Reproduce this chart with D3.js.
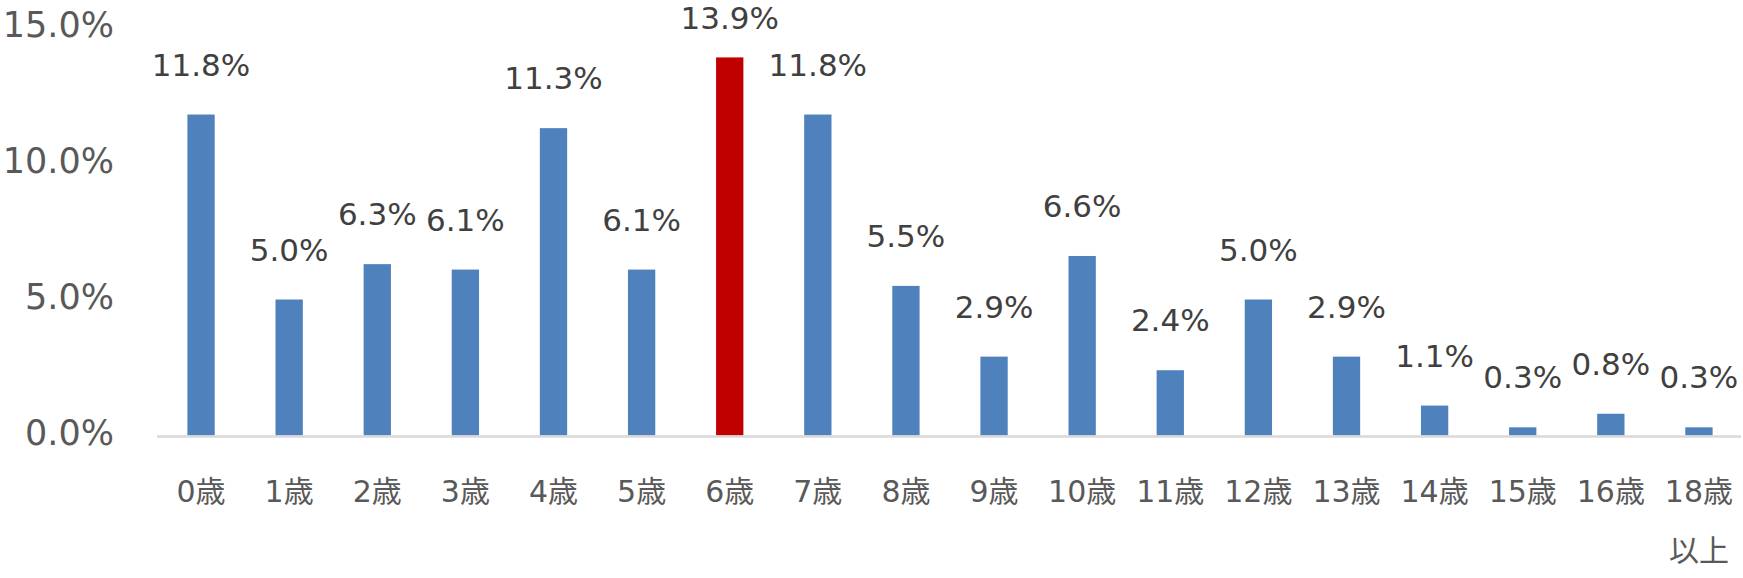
<!DOCTYPE html>
<html>
<head>
<meta charset="utf-8">
<script src="https://cdn.jsdelivr.net/npm/d3@7"></script>
<style>
  body { margin: 0; background: #fff; }
  svg text { font-family: "DejaVu Sans", "Noto Sans CJK JP", sans-serif; }
</style>
</head>
<body>
<div id="chart-container"></div>
<script>
const categories = ["0歳", "1歳", "2歳", "3歳", "4歳", "5歳", "6歳", "7歳", "8歳",
    "9歳", "10歳", "11歳", "12歳", "13歳", "14歳", "15歳", "16歳", "18歳\n以上"];
const values = [11.8, 5.0, 6.3, 6.1, 11.3, 6.1, 13.9, 11.8, 5.5, 2.9, 6.6, 2.4, 5.0, 2.9, 1.1, 0.3, 0.8, 0.3];
const highlight = "6歳";
const yTicks = [0, 5, 10, 15];

const width = 1743;
const height = 578;

function drawBarChart() {
    const svg = d3.select("#chart-container")
        .append("svg")
        .attr("width", width)
        .attr("height", height);

    const x = d3.scaleBand()
        .domain(categories)
        .range([157, 1743])
        .paddingInner(0.69)
        .paddingOuter(0.345);

    const y = d3.scaleLinear()
        .domain([0, 15])
        .range([435.5, 27.5]);

    // y tick labels
    svg.selectAll(".ytick")
        .data(yTicks)
        .enter().append("text")
        .attr("class", "ytick")
        .attr("x", 114)
        .attr("y", d => y(d) + 9)
        .attr("text-anchor", "end")
        .style("fill", "#595959")
        .style("font-size", "35px")
        .text(d => d.toFixed(1) + "%");

    svg.selectAll(".bar")
        .data(values)
        .enter().append("rect")
        .attr("class", "bar")
        .attr("x", (d, i) => x(categories[i]))
        .attr("y", d => y(d))
        .attr("width", x.bandwidth())
        .attr("height", d => y(0) - y(d))
        .attr("fill", (d, i) => categories[i] === highlight ? "#c00000" : "#4f81bd");

    // baseline
    svg.append("line")
        .attr("x1", 157)
        .attr("x2", 1741)
        .attr("y1", y(0) + 1)
        .attr("y2", y(0) + 1)
        .attr("stroke", "#d9d9d9")
        .attr("stroke-width", 2.5);

    // value labels
    svg.selectAll(".label")
        .data(values)
        .enter().append("text")
        .attr("class", "label")
        .attr("x", (d, i) => x(categories[i]) + x.bandwidth() / 2)
        .attr("y", d => Math.max(y(d) - 39, 29))
        .attr("text-anchor", "middle")
        .style("fill", "#404040")
        .style("font-size", "31px")
        .text(d => d.toFixed(1) + "%");

    // category labels
    const cat = svg.selectAll(".cat")
        .data(categories)
        .enter().append("text")
        .attr("class", "cat")
        .attr("text-anchor", "middle")
        .style("fill", "#595959")
        .style("font-size", "30px");

    cat.each(function(d) {
        const cx = x(d) + x.bandwidth() / 2;
        d.split("\n").forEach((line, k) => {
            d3.select(this).append("tspan")
                .attr("x", cx)
                .attr("y", 502 + k * 59)
                .text(line);
        });
    });
}

document.addEventListener('DOMContentLoaded', drawBarChart);
</script>
</body>
</html>
